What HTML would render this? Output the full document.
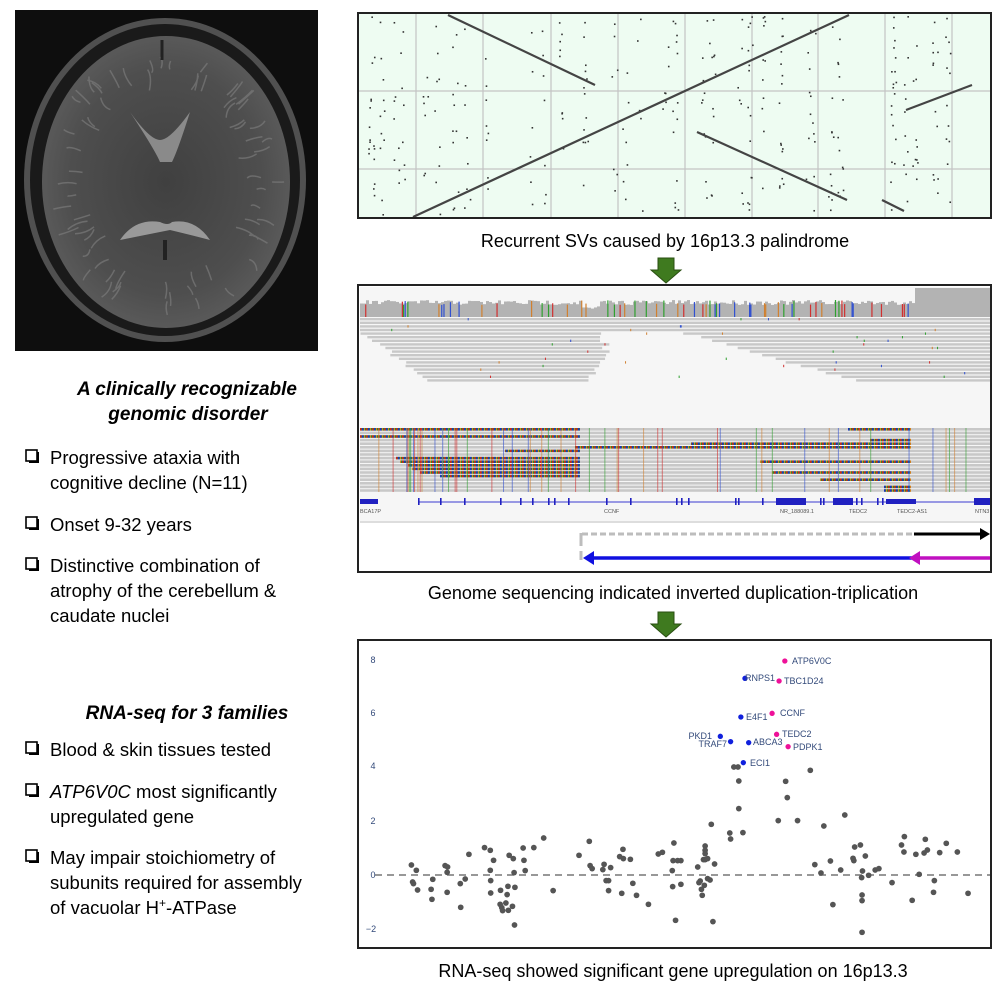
<!DOCTYPE html>
<html><head><meta charset="utf-8"><style>
html,body{margin:0;padding:0;background:#fff;}
svg{display:block;font-family:"Liberation Sans",Arial,sans-serif;}
</style></head><body>
<svg id="s" width="996" height="996" viewBox="0 0 996 996" xmlns="http://www.w3.org/2000/svg">
<defs>
<radialGradient id="brain" cx="50%" cy="50%" r="55%">
<stop offset="0" stop-color="#404040"/><stop offset="0.7" stop-color="#4e4e4e"/><stop offset="1" stop-color="#5e5e5e"/></radialGradient>
<pattern id="rb" width="6" height="4" patternUnits="userSpaceOnUse">
<rect width="6" height="4" fill="#2a8a2a"/><rect x="0" width="1.5" height="4" fill="#d02020"/><rect x="2" width="1.5" height="4" fill="#2030c0"/><rect x="4" width="1" height="4" fill="#d08020"/></pattern>
</defs>
<rect width="996" height="996" fill="#fff"/>
<!-- MRI -->
<rect x="15" y="10" width="303" height="341" fill="#0e0e0e"/>
<ellipse cx="165" cy="180" rx="141" ry="162" fill="#505050"/>
<ellipse cx="165" cy="180" rx="135" ry="156" fill="#1a1a1a"/>
<ellipse cx="166" cy="182" rx="124" ry="146" fill="url(#brain)"/>
<g id="gyri" fill="none" stroke="#7a7a7a" stroke-width="1.5" opacity="0.7"></g>
<path d="M130 112 Q155 150 160 162 L172 162 Q178 150 190 112 Q170 140 160 140 Q150 140 130 112Z" fill="#8a8a8a"/>
<path d="M120 240 Q135 218 160 222 Q168 226 172 222 Q195 218 210 240 Q195 236 170 230 Q140 236 120 240Z" fill="#999"/>
<rect x="163" y="240" width="4" height="20" fill="#222"/>
<path d="M162 40 L162 60" stroke="#222" stroke-width="3"/>
<!-- left text -->
<g font-weight="bold" font-style="italic" font-size="19" text-anchor="middle" fill="#000">
<text x="187" y="395">A clinically recognizable</text>
<text x="188" y="420">genomic disorder</text>
<text x="187" y="719">RNA-seq for 3 families</text>
</g>
<g font-size="18.5" fill="#000">
<text x="50" y="464">Progressive ataxia with</text>
<text x="50" y="489">cognitive decline (N=11)</text>
<text x="50" y="531">Onset 9-32 years</text>
<text x="50" y="572">Distinctive combination of</text>
<text x="50" y="597">atrophy of the cerebellum &amp;</text>
<text x="50" y="622">caudate nuclei</text>
<text x="50" y="756">Blood &amp; skin tissues tested</text>
<text x="50" y="798"><tspan font-style="italic">ATP6V0C</tspan> most significantly</text>
<text x="50" y="823">upregulated gene</text>
<text x="50" y="864">May impair stoichiometry of</text>
<text x="50" y="889">subunits required for assembly</text>
<text x="50" y="914">of vacuolar H<tspan font-size="12" dy="-7">+</tspan><tspan dy="7">-ATPase</tspan></text>
</g>
<g fill="none" stroke="#000" stroke-width="1.6">
<rect x="26" y="450" width="11" height="11"/><rect x="26" y="517" width="11" height="11"/><rect x="26" y="558" width="11" height="11"/>
<rect x="26" y="742" width="11" height="11"/><rect x="26" y="784" width="11" height="11"/><rect x="26" y="850" width="11" height="11"/>
</g>
<g stroke="#000" stroke-width="2"><line x1="29" y1="462" x2="39" y2="462"/><line x1="38" y1="452" x2="38" y2="462"/>
<line x1="29" y1="529" x2="39" y2="529"/><line x1="38" y1="519" x2="38" y2="529"/>
<line x1="29" y1="570" x2="39" y2="570"/><line x1="38" y1="560" x2="38" y2="570"/>
<line x1="29" y1="754" x2="39" y2="754"/><line x1="38" y1="744" x2="38" y2="754"/>
<line x1="29" y1="796" x2="39" y2="796"/><line x1="38" y1="786" x2="38" y2="796"/>
<line x1="29" y1="862" x2="39" y2="862"/><line x1="38" y1="852" x2="38" y2="862"/></g>

<!-- top dot plot -->
<rect x="358" y="13" width="633" height="205" fill="#eefcf2"/>
<g stroke="#c4c4c4" stroke-width="1.2">
<line x1="416" y1="13" x2="416" y2="218"/><line x1="483" y1="13" x2="483" y2="218"/><line x1="551" y1="13" x2="551" y2="218"/><line x1="618" y1="13" x2="618" y2="218"/><line x1="685" y1="13" x2="685" y2="218"/><line x1="752" y1="13" x2="752" y2="218"/><line x1="818" y1="13" x2="818" y2="218"/><line x1="885" y1="13" x2="885" y2="218"/><line x1="952" y1="13" x2="952" y2="218"/>
<line x1="358" y1="91" x2="991" y2="91"/><line x1="358" y1="169" x2="991" y2="169"/></g>
<g id="tdots" fill="#333"></g>
<g stroke="#444" stroke-width="2.2">
<line x1="413" y1="217" x2="849" y2="15"/><line x1="448" y1="15" x2="595" y2="85"/>
<line x1="697" y1="132" x2="847" y2="200"/><line x1="882" y1="200" x2="904" y2="211"/>
<line x1="906" y1="110" x2="972" y2="85"/></g>
<rect x="358" y="13" width="633" height="205" fill="none" stroke="#222" stroke-width="2"/>
<text x="665" y="247" font-size="18" text-anchor="middle">Recurrent SVs caused by 16p13.3 palindrome</text>
<polygon points="658,258 674,258 674,270 681,270 666,283 651,270 658,270" fill="#3f7a1f" stroke="#2a4f12" stroke-width="1"/>

<!-- IGV panel -->
<rect x="358" y="285" width="633" height="287" fill="#fff"/>
<rect x="360" y="287" width="630" height="235" fill="#f6f6f6"/>
<g id="igv"></g>
<line x1="360" y1="522" x2="990" y2="522" stroke="#ddd" stroke-width="2"/>
<line x1="418" y1="502" x2="990" y2="502" stroke="#3a3ad0" stroke-width="1"/>
<g fill="#2020c0"><rect x="360" y="499" width="18" height="5"/><rect x="776" y="498" width="30" height="7"/><rect x="833" y="498" width="20" height="7"/><rect x="886" y="499" width="30" height="5"/><rect x="974" y="498" width="16" height="7"/></g>
<g id="exons" fill="#2020c0"></g>
<g font-size="5.5" fill="#555"><text x="360" y="513">BCA17P</text><text x="604" y="513">CCNF</text><text x="780" y="513">NR_188089.1</text><text x="849" y="513">TEDC2</text><text x="897" y="513">TEDC2-AS1</text><text x="975" y="513">NTN3</text></g>
<line x1="582" y1="534" x2="912" y2="534" stroke="#bdbdbd" stroke-width="3" stroke-dasharray="6,3"/>
<line x1="581" y1="533" x2="581" y2="546" stroke="#bdbdbd" stroke-width="3"/>
<line x1="581" y1="551" x2="581" y2="560" stroke="#bdbdbd" stroke-width="3"/>
<line x1="914" y1="534" x2="982" y2="534" stroke="#000" stroke-width="3"/>
<polygon points="980,528 990,534 980,540" fill="#000"/>
<line x1="592" y1="558" x2="912" y2="558" stroke="#1010e0" stroke-width="3.5"/>
<polygon points="583,558 594,551 594,565" fill="#1010e0"/>
<line x1="918" y1="558" x2="990" y2="558" stroke="#c010c0" stroke-width="3.5"/>
<polygon points="909,558 920,551 920,565" fill="#c010c0"/>
<rect x="358" y="285" width="633" height="287" fill="none" stroke="#222" stroke-width="2"/>
<text x="673" y="599" font-size="18" text-anchor="middle">Genome sequencing indicated inverted duplication-triplication</text>
<polygon points="658,612 674,612 674,624 681,624 666,637 651,624 658,624" fill="#3f7a1f" stroke="#2a4f12" stroke-width="1"/>

<!-- scatter -->
<rect x="358" y="640" width="633" height="308" fill="#fff" stroke="#222" stroke-width="2"/>
<line x1="375" y1="875" x2="990" y2="875" stroke="#777" stroke-width="1.5" stroke-dasharray="7,5"/>
<g font-size="9" fill="#334a7a" text-anchor="middle"><text x="373" y="663">8</text><text x="373" y="716">6</text><text x="373" y="769">4</text><text x="373" y="824">2</text><text x="373" y="878">0</text><text x="371" y="932">−2</text></g>
<g id="sc" transform="translate(358,640) scale(0.4108,0.3333)"></g>
<g font-size="9" fill="#334a7a">
<text x="792" y="664">ATP6V0C</text><text x="745" y="681">RNPS1</text><text x="784" y="684">TBC1D24</text>
<text x="780" y="716">CCNF</text><text x="746" y="720">E4F1</text><text x="782" y="737">TEDC2</text>
<text x="712" y="739" text-anchor="end">PKD1</text><text x="727" y="747" text-anchor="end">TRAF7</text>
<text x="753" y="745">ABCA3</text><text x="793" y="750">PDPK1</text><text x="750" y="766">ECI1</text></g>
<text x="673" y="977" font-size="18" text-anchor="middle">RNA-seq showed significant gene upregulation on 16p13.3</text>
</svg>
<script>
(function(){
var NS="http://www.w3.org/2000/svg";
var seed=7;function r(){seed=(seed*16807)%2147483647;return seed/2147483647;}
function el(p,t,a){var e=document.createElementNS(NS,t);for(var k in a)e.setAttribute(k,a[k]);p.appendChild(e);return e;}
// gyri
var gy=document.getElementById('gyri');
for(var i=0;i<70;i++){var a=r()*Math.PI*2;var rr=0.75+r()*0.22;var x=166+Math.cos(a)*124*rr,y=182+Math.sin(a)*146*rr;
 var dx=-Math.cos(a)*(8+r()*14),dy=-Math.sin(a)*(8+r()*14);
 el(gy,'path',{d:'M'+x.toFixed(1)+' '+y.toFixed(1)+' q'+(dx/2+ (r()*8-4)).toFixed(1)+' '+(dy/2+(r()*8-4)).toFixed(1)+' '+dx.toFixed(1)+' '+dy.toFixed(1)});}
// top dots
var td=document.getElementById('tdots');
var cols=[371,381,396,403,425,437,455,467,485,530,543,560,585,614,625,640,665,675,704,712,740,750,762,780,808,813,830,840,893,906,915,935,948];
for(var i=0;i<330;i++){var x=cols[Math.floor(r()*cols.length)]+ (r()*6-3);var y=16+r()*198;el(td,'rect',{x:x,y:y,width:1.6,height:1.6});}
// IGV
var g=document.getElementById('igv');
for(var x=360;x<990;x+=3){var top=x>912?288:(300+r()*5+(x>580&&x<600?6:0));el(g,'rect',{x:x,y:top,width:3,height:317-top,fill:'#b3b3b3'});}
var vc=['#d03030','#3050d0','#30a030','#d08030'];
for(var i=0;i<60;i++){var x=360+r()*550;var t=300+r()*5;el(g,'rect',{x:x,y:t,width:1.2,height:317-t,fill:vc[Math.floor(r()*4)]});}
for(var i=0;i<18;i++){var y=318+i*3.6;
 var ls=360+ (i>4?(i-4)*5:0)+r()*8, le=600-(i>12?(i-12)*4:0)+r()*10;
 if(i<4){el(g,'rect',{x:360,y:y,width:630,height:2.4,fill:'#c8c8c8'});}
 else{el(g,'rect',{x:ls,y:y,width:le-ls,height:2.4,fill:'#c8c8c8'});
 var rs=680+(i-4)*13+r()*10;el(g,'rect',{x:rs,y:y,width:990-rs,height:2.4,fill:'#c8c8c8'});}
}
for(var i=0;i<40;i++){var x=360+r()*620;var y=318+Math.floor(r()*18)*3.6;el(g,'rect',{x:x,y:y,width:1,height:2.4,fill:vc[Math.floor(r()*4)]});}
var L=[[360,580],[0,0],[360,580],[0,0],[0,0],[0,0],[505,580],[0,0],[396,580],[400,580],[408,580],[412,580],[420,580],[440,580],[0,0],[0,0],[0,0],[0,0]];
var R=[[848,911],[0,0],[0,0],[870,911],[691,911],[575,911],[0,0],[0,0],[0,0],[760,911],[0,0],[0,0],[772,911],[0,0],[820,911],[0,0],[884,911],[884,911]];
for(var i=0;i<18;i++){var y=428+i*3.6;
 el(g,'rect',{x:360,y:y,width:630,height:2.6,fill:'#c8c8c8'});
 if(L[i][1])el(g,'rect',{x:L[i][0],y:y,width:L[i][1]-L[i][0],height:2.6,fill:'url(#rb)'});
 if(R[i][1])el(g,'rect',{x:R[i][0],y:y,width:R[i][1]-R[i][0],height:2.6,fill:'url(#rb)'});
}
for(var i=0;i<50;i++){var x=360+r()*620;el(g,'rect',{x:x,y:428,width:1,height:64,fill:vc[Math.floor(r()*4)],opacity:0.6});}
var ex=document.getElementById('exons');
[418,440,464,500,520,532,548,554,568,606,630,676,681,688,735,738,762,820,823,833,850,856,861,877,882].forEach(function(x){el(ex,'rect',{x:x,y:498,width:1.6,height:7});});
var sc=document.getElementById('sc');
var P=[[130,675],[142,691],[133,726],[135,731],[145,750],[178,748],[180,778],[182,718],[212,677],[218,681],[217,697],[217,757],[249,731],[250,802],[261,717],[270,643],[308,623],[322,631],[330,661],[322,691],[323,722],[323,759],[347,751],[346,793],[350,803],[352,812],[360,789],[363,764],[366,811],[368,646],[365,739],[378,656],[380,698],[382,742],[376,799],[381,855],[402,624],[404,661],[407,692],[428,623],[452,594],[475,752],[538,646],[563,604],[565,677],[570,686],[596,689],[599,673],[604,722],[610,722],[610,752],[615,683],[637,650],[645,628],[646,656],[663,658],[642,760],[669,730],[678,766],[707,793],[731,642],[741,637],[769,609],[767,662],[765,692],[766,740],[773,841],[786,662],[778,662],[786,733],[827,681],[833,723],[830,728],[836,748],[838,766],[841,659],[845,618],[845,631],[845,641],[845,659],[843,736],[851,656],[851,716],[857,720],[860,553],[864,845],[868,672],[905,579],[907,597],[915,381],[925,381],[927,423],[927,506],[937,578],[1041,424],[1045,473],[1023,542],[1070,542],[1101,391],[1112,674],[1127,699],[1134,558],[1150,663],[1156,794],[1175,690],[1185,525],[1205,655],[1207,662],[1209,621],[1223,615],[1226,713],[1228,693],[1227,765],[1227,782],[1235,648],[1227,877],[1243,706],[1259,690],[1268,686],[1300,728],[1323,615],[1329,636],[1330,590],[1349,781],[1358,643],[1366,703],[1378,639],[1381,598],[1386,630],[1401,757],[1403,722],[1416,638],[1432,610],[1459,636],[1485,760]];
P.forEach(function(p){el(sc,'ellipse',{cx:p[0],cy:p[1],rx:7,ry:8.6,fill:'#555'});});
[[1039,63],[1025,123],[1008,220],[1019,283],[1047,320]].forEach(function(p){el(sc,'ellipse',{cx:p[0],cy:p[1],rx:6.5,ry:8,fill:'#ee1199'});});
[[942,115],[932,231],[882,289],[907,305],[951,308],[938,368]].forEach(function(p){el(sc,'ellipse',{cx:p[0],cy:p[1],rx:6.5,ry:8,fill:'#1020dd'});});
})();
</script>
</body></html>
